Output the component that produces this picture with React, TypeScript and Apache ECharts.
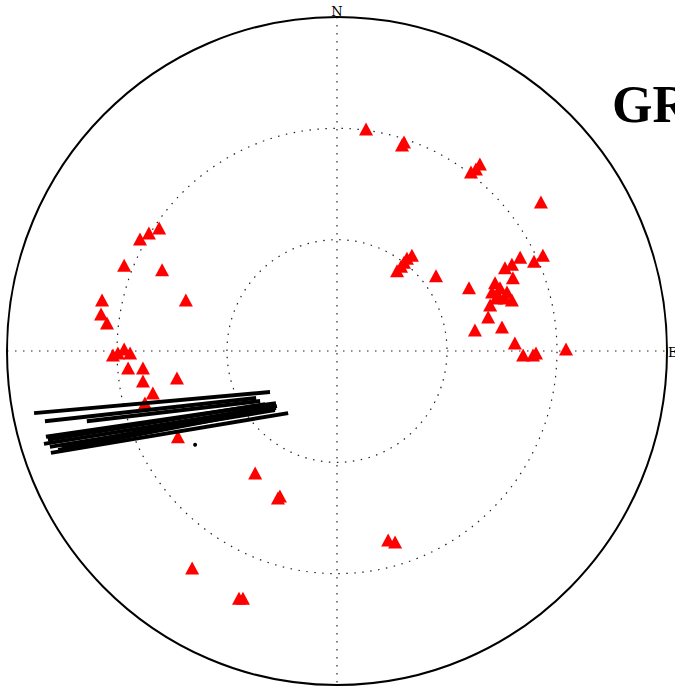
import React, { useEffect, useRef } from "react";
import * as echarts from "echarts";

// Poles plotted on the projection net, in unit-disk coordinates (x = east, y = north).
const poleX = [
  0.088, 0.197, 0.203, 0.406, 0.421, 0.433, 0.618,
  0.182, 0.194, 0.203, 0.212, 0.227, 0.300, 0.400,
  0.509, 0.530, 0.555, 0.597, 0.624, 0.479, 0.533,
  0.470, 0.488, 0.509, 0.530, 0.464, 0.458, 0.418,
  0.500, 0.539, 0.564, 0.594, 0.603, 0.694, 0.494,
  0.515, 0.482,
  -0.539, -0.570, -0.597, -0.645, -0.530, -0.712, -0.715,
  -0.697, -0.458, -0.679, -0.664, -0.645, -0.627, -0.633,
  -0.588, -0.588, -0.558, -0.485, -0.582, -0.482,
  -0.248, -0.173, -0.179, -0.439, -0.297, -0.285, 0.155, 0.176,
];
const poleY = [
  0.665, 0.617, 0.626, 0.536, 0.545, 0.560, 0.446,
  0.240, 0.254, 0.266, 0.278, 0.287, 0.225, 0.189,
  0.249, 0.260, 0.281, 0.269, 0.287, 0.204, 0.219,
  0.177, 0.168, 0.159, 0.153, 0.138, 0.102, 0.063,
  0.072, 0.024, -0.012, -0.012, -0.006, 0.006, 0.189,
  0.177, 0.159,
  0.368, 0.353, 0.335, 0.257, 0.243, 0.153, 0.111,
  0.084, 0.153, -0.012, -0.006, 0.006, -0.006, -0.051,
  -0.051, -0.090, -0.126, -0.081, -0.156, -0.257,
  -0.365, -0.434, -0.440, -0.650, -0.740, -0.740, -0.566, -0.572,
];

// Traces: start and end points of each segment.
const traceStartX = [-0.918, -0.885, -0.758, -0.882, -0.888, -0.870, -0.867, -0.845, -0.833, -0.876];
const traceStartY = [-0.186, -0.210, -0.210, -0.257, -0.278, -0.287, -0.305, -0.296, -0.287, -0.266];
const traceEndX = [-0.203, -0.245, -0.233, -0.185, -0.182, -0.188, -0.148, -0.185, -0.203, -0.218];
const traceEndY = [-0.123, -0.141, -0.150, -0.156, -0.165, -0.177, -0.186, -0.171, -0.165, -0.159];

// Single marked point.
const markX = [-0.43];
const markY = [-0.281];

// Reference circles as fractions of the net radius.
const ringFractions = [1 / 3, 2 / 3];

const compassLabels = ["N", "E"];
const titleText = "GR";

export default function App() {
  const ref = useRef<HTMLDivElement>(null);

  useEffect(() => {
    if (!ref.current) return;
    const chart = echarts.init(ref.current, undefined, { renderer: "svg" });

    const poles = poleX.map((x, i) => [x, poleY[i]]);
    const traces = traceStartX.map((x, i) => ({
      coords: [
        [x, traceStartY[i]],
        [traceEndX[i], traceEndY[i]],
      ],
    }));
    const marks = markX.map((x, i) => [x, markY[i]]);

    const dotted = {
      stroke: "#222",
      lineWidth: 1.2,
      lineDash: [1.5, 6.5],
      fill: "none",
    };

    chart.setOption({
      animation: false,
      backgroundColor: "#fff",
      grid: { left: 7, top: 17, width: 660, height: 668 },
      xAxis: { type: "value", min: -1, max: 1, show: false },
      yAxis: { type: "value", min: -1, max: 1, show: false },
      graphic: [
        {
          type: "text",
          left: 612,
          top: 78,
          z: 10,
          style: {
            text: titleText,
            fontSize: 52,
            fontWeight: "bold",
            fontFamily: "'Liberation Serif', serif",
            fill: "#000",
          },
        },
      ],
      series: [
        {
          type: "custom",
          z: 1,
          silent: true,
          data: [[0, 0]],
          renderItem: (_params: any, api: any) => {
            const c = api.coord([0, 0]);
            const s = api.size([1, 1]);
            const rx = s[0];
            const ry = s[1];
            const children: any[] = [];
            ringFractions.forEach((f) => {
              children.push({
                type: "ellipse",
                shape: { cx: c[0], cy: c[1], rx: rx * f, ry: ry * f },
                style: dotted,
              });
            });
            children.push({
              type: "line",
              shape: { x1: c[0] - rx, y1: c[1], x2: c[0] + rx, y2: c[1] },
              style: dotted,
            });
            children.push({
              type: "line",
              shape: { x1: c[0], y1: c[1] - ry, x2: c[0], y2: c[1] + ry },
              style: dotted,
            });
            children.push({
              type: "ellipse",
              shape: { cx: c[0], cy: c[1], rx, ry },
              style: { stroke: "#000", lineWidth: 2, fill: "none" },
            });
            children.push({
              type: "text",
              x: c[0],
              y: c[1] - ry - 6,
              style: {
                text: compassLabels[0],
                align: "center",
                verticalAlign: "middle",
                fontSize: 13,
                fontFamily: "'DejaVu Serif', serif",
                fill: "#000",
              },
            });
            children.push({
              type: "text",
              x: c[0] + rx + 1,
              y: c[1] + 1,
              style: {
                text: compassLabels[1],
                align: "left",
                verticalAlign: "middle",
                fontSize: 13,
                fontFamily: "'DejaVu Serif', serif",
                fill: "#000",
              },
            });
            return { type: "group", children };
          },
        },
        {
          type: "scatter",
          z: 2,
          symbol: "triangle",
          symbolSize: [14, 13],
          itemStyle: { color: "#ff0000", opacity: 1 },
          data: poles,
        },
        {
          type: "lines",
          coordinateSystem: "cartesian2d",
          z: 3,
          lineStyle: { color: "#000", width: 4, opacity: 1, curveness: 0 },
          data: traces,
        },
        {
          type: "scatter",
          z: 4,
          symbol: "circle",
          symbolSize: 4,
          itemStyle: { color: "#000", opacity: 1 },
          data: marks,
        },
      ],
    });

    return () => chart.dispose();
  }, []);

  return (
    <div
      ref={ref}
      style={{ position: "fixed", left: 0, top: 0, width: 675, height: 692 }}
    />
  );
}
